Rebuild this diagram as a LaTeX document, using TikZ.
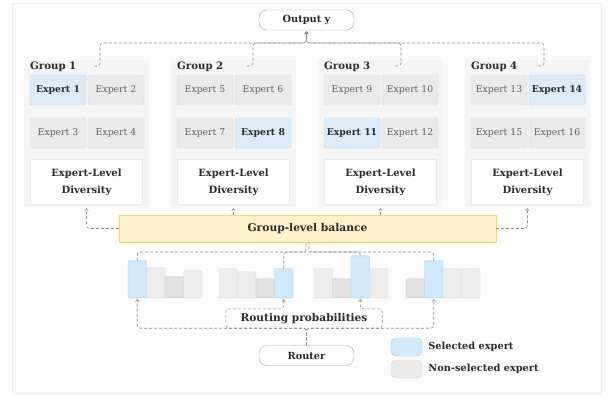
\documentclass[tikz,border=0pt]{standalone}
\usepackage{fontspec}
\setmainfont{DejaVu Serif}
\usetikzlibrary{positioning,arrows.meta}

\definecolor{bgfill}{HTML}{FCFCFC}
\definecolor{frameline}{HTML}{EDEDED}
\definecolor{panelfill}{HTML}{F5F5F5}
\definecolor{exfill}{HTML}{EBEBEB}
\definecolor{exline}{HTML}{D9D9D9}
\definecolor{selfill}{HTML}{DDEBF7}
\definecolor{selline}{HTML}{AED6F1}
\definecolor{balfill}{HTML}{FFF0CC}
\definecolor{balline}{HTML}{F5D66E}
\definecolor{barblue}{HTML}{D2E9FC}
\definecolor{barline}{HTML}{92CEF4}
\definecolor{barlight}{HTML}{EDEDED}
\definecolor{bardark}{HTML}{E2E2E2}
\definecolor{linkgray}{HTML}{8C8C8C}
\definecolor{txt}{HTML}{2B2B2B}

\begin{document}
\begin{tikzpicture}[x=1pt,y=-1pt,
  expert/.style={draw=exline, fill=exfill, rounded corners=1.5pt, minimum width=56pt,
    minimum height=30pt, inner sep=0pt, text=txt!75, font=\fontsize{9.3}{11}\selectfont},
  sel/.style={expert, draw=selline, fill=selfill, text=txt, font=\fontsize{9.3}{11}\selectfont\bfseries},
  panel/.style={fill=panelfill, minimum width=125pt, minimum height=147pt, inner sep=0pt},
  grouplabel/.style={text=txt, inner sep=0pt, font=\fontsize{10.2}{12}\selectfont\bfseries},
  divbox/.style={draw=panelfill!60!exline, fill=white, minimum width=112pt, minimum height=45pt,
    inner sep=0pt, align=center, text=txt, font=\fontsize{10}{17}\selectfont\bfseries},
  term/.style={draw=linkgray!80, fill=white, rounded corners=8pt, minimum width=95pt,
    minimum height=20pt, inner sep=0pt, text=txt, font=\fontsize{9.8}{11}\selectfont\bfseries},
  balance/.style={draw=balline, fill=balfill, minimum width=377pt, minimum height=27pt,
    inner sep=0pt, text=txt, font=\fontsize{10.7}{12}\selectfont\bfseries},
  bar/.style={minimum width=18.5pt, inner sep=0pt, rounded corners=1pt, anchor=south},
  swatch/.style={rounded corners=5pt, minimum width=31pt, minimum height=18pt, inner sep=0pt},
  legtext/.style={inner sep=0pt, text=txt, font=\fontsize{9.8}{11}\selectfont\bfseries},
  link/.style={draw=linkgray, dash pattern=on 3pt off 2pt, rounded corners=3pt, line width=0.6pt},
  tip/.style={-{Straight Barb[length=2.2pt,width=3.5pt]}, shorten >=1pt}]
\useasboundingbox (0,0) rectangle (608,396);
\draw[frameline, fill=bgfill] (12,3) rectangle (601,393);

\node[term] (out) at (306.5,20)    {Output y};
\node[term] (rt)  at (306.5,355.5) {Router};

% Groups of experts
\foreach \g/\xl/\hx/\s in {1/24/100/1, 2/171/253/4, 3/318/401/3, 4/465/544/2} {
  \node[panel] (g\g) at (\xl+62.5,133.5) {};
  \node[grouplabel, anchor=west] (gl\g) at (\xl+6,67) {Group \g};
  \foreach \k/\dx/\dy in {1/0/0, 2/58/0, 3/0/43, 4/58/43} {
    \pgfmathtruncatemacro\n{(\g-1)*4+\k}
    \ifnum\k=\s
      \node[sel] (e\n) at (\xl+34+\dx,90+\dy) {Expert \n};
    \else
      \node[expert] (e\n) at (\xl+34+\dx,90+\dy) {Expert \n};
    \fi
  }
  \node[divbox] (d\g) at (\xl+62.5,182) {Expert-Level\\Diversity};
  \coordinate (h\g) at (\hx-6,66);
  \draw[link, tip] (h\g) -| ++(6,-23) -| (out.south);
}

\node[balance] (bal) at (307.5,228.5) {Group-level balance};
\coordinate (sp) at (307.5,252);

% Routing probabilities
\foreach \c/\xc/\sb/\ha/\hb/\hc/\hd in {1/128/1/37/30/21/27, 2/219/4/29/26/19/29,
                                       3/314/3/29/19/42/29, 4/406/2/19/37/29/29} {
  \foreach \k/\h in {1/\ha, 2/\hb, 3/\hc, 4/\hd} {
    \ifnum\k=\sb
      \node[bar, fill=barblue, draw=barline, minimum height=\h*1pt] (b\c\k) at (\xc+18.5*\k-9.25,298) {};
    \else\ifnum\h<22
      \node[bar, fill=bardark, draw=exline!90!black, minimum height=\h*1pt] (b\c\k) at (\xc+18.5*\k-9.25,298) {};
    \else
      \node[bar, fill=barlight, draw=exline, minimum height=\h*1pt] (b\c\k) at (\xc+18.5*\k-9.25,298) {};
    \fi\fi
  }
}
\node[text=txt, minimum width=156pt, minimum height=19pt, inner sep=0pt,
  font=\fontsize{10.6}{12}\selectfont\bfseries] (rp) at (304,318.5) {Routing probabilities};

% Edges
\draw[link, tip] (bal.west) -| (g1.south);
\draw[link, tip] (bal.north -| g2.south) -- (g2.south);
\draw[link, tip] (bal.north -| g3.south) -- (g3.south);
\draw[link, tip] (bal.east) -| (g4.south);

\draw[link] (b11.north) |- ([xshift=-1.5pt]sp) -- ([xshift=-1.5pt]bal.south);
\draw[link] (b24.north) |- ([xshift=-1.5pt]sp);
\draw[link] (b33.north) |- ([xshift=1.5pt]sp) -- ([xshift=1.5pt]bal.south);
\draw[link] (b42.north) |- ([xshift=1.5pt]sp);

\draw[link, tip] (rt.north) -- (rt.north |- rp.south) -| (b11.south);
\draw[link, tip] (rt.north) |- (rp.south west) -- (rp.north west) -| (b24.south);
\draw[link, tip] (rt.north) |- (rp.south east) -- (rp.north east) -| (b33.south);
\draw[link, tip] (rt.north) -- (rt.north |- rp.south) -| (b42.south);

% Legend
\node[swatch, fill=barblue, draw=barline] (ls) at (406.5,347) {};
\node[legtext, right=6pt of ls] (lst) {Selected expert};
\node[swatch, fill=exfill, draw=exline] (ln) at (406.5,369) {};
\node[legtext, right=6pt of ln] (lnt) {Non-selected expert};
\end{tikzpicture}
\end{document}
